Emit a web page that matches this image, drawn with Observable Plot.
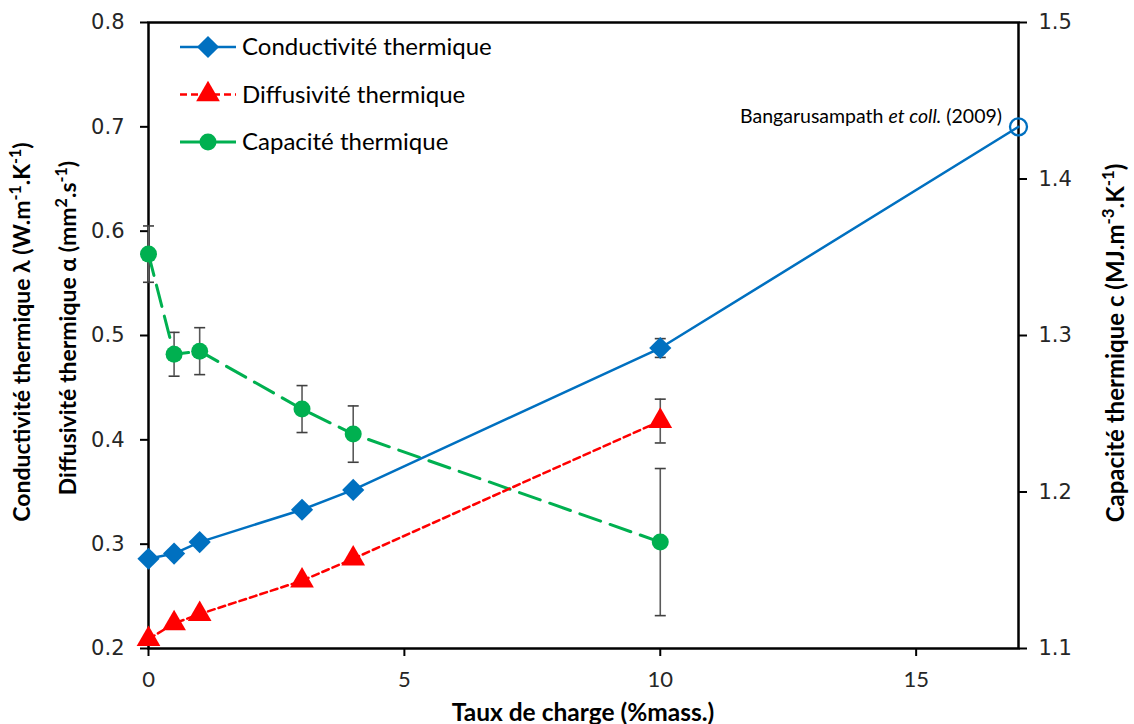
<!DOCTYPE html>
<html><head><meta charset="utf-8">
<script src="https://cdn.jsdelivr.net/npm/d3@7"></script>
<script src="https://cdn.jsdelivr.net/npm/@observablehq/plot@0.6"></script>
<style>
html,body{margin:0;padding:0;background:#fff;}
#chart{width:1134px;height:724px;}
</style></head><body><div id="chart"></div>
<script>
// ---- data ----
const charge = [0, 0.5, 1, 3, 4, 10];
const conductivite = [0.286, 0.291, 0.302, 0.333, 0.352, 0.488];
const conductiviteErr = [0, 0, 0, 0, 0, 0.009];
const diffusivite = [0.209, 0.224, 0.233, 0.265, 0.286, 0.418];
const diffusiviteErr = [0, 0, 0, 0, 0, 0.021];
const capacite = [1.352, 1.288, 1.290, 1.253, 1.237, 1.168];
const capaciteErr = [0.018, 0.014, 0.015, 0.015, 0.018, 0.047];
const refCharge = 17;
const refConductivite = 0.70;
const refLabel = ["Bangarusampath ", "et coll.", " (2009)"];
const leftTicks = [0.2, 0.3, 0.4, 0.5, 0.6, 0.7, 0.8];
const rightTicks = [1.1, 1.2, 1.3, 1.4, 1.5];
const xTicks = [0, 5, 10, 15];
const seriesNames = ["Conductivité thermique", "Diffusivité thermique", "Capacité thermique"];

// ---- secondary axis mapping (1.1–1.5 onto 0.2–0.8) ----
const toLeft = c => 0.2 + (c - 1.1) * 1.5;
const fromLeft = y => 1.1 + (y - 0.2) / 1.5;

const kData = charge.map((x, i) => ({x, y: conductivite[i], e: conductiviteErr[i]}));
const aData = charge.map((x, i) => ({x, y: diffusivite[i], e: diffusiviteErr[i]}));
const cData = charge.map((x, i) => ({x, y: toLeft(capacite[i]), lo: toLeft(capacite[i] - capaciteErr[i]), hi: toLeft(capacite[i] + capaciteErr[i])}));
const kLine = [...kData, {x: refCharge, y: refConductivite}];

const errRows = [
  ...kData.filter(d => d.e > 0).map(d => ({x: d.x, lo: d.y - d.e, hi: d.y + d.e})),
  ...aData.filter(d => d.e > 0).map(d => ({x: d.x, lo: d.y - d.e, hi: d.y + d.e})),
  ...cData.map(d => ({x: d.x, lo: d.lo, hi: d.hi}))
];
const capRows = errRows.flatMap(d => [{x: d.x, y: d.lo}, {x: d.x, y: d.hi}]);
const capSymbol = {draw(ctx) { ctx.moveTo(-5.5, 0); ctx.lineTo(5.5, 0); }};

const BLUE = "#0070C0", RED = "#FF0000", GREEN = "#00B050";
const F = "Lato, 'Open Sans', sans-serif";

const chart = Plot.plot({
  width: 1134, height: 724,
  marginLeft: 148, marginRight: 116, marginTop: 22, marginBottom: 76,
  style: {fontFamily: F, background: "#fff", overflow: "visible"},
  x: {domain: [0, 17]},
  y: {domain: [0.2, 0.8]},
  marks: [
    Plot.frame({stroke: "#000", strokeWidth: 2.5}),
    Plot.axisY({ticks: leftTicks, tickSize: 8, tickPadding: 16, strokeWidth: 2, stroke: "#000",
      tickFormat: d3.format(".1f"), label: null, fontSize: 21, fontFamily: "'DejaVu Sans', sans-serif", fill: "#262626"}),
    Plot.axisY({anchor: "right", ticks: rightTicks.map(toLeft), tickSize: 8, tickPadding: 12, strokeWidth: 2, stroke: "#000",
      tickFormat: d => fromLeft(d).toFixed(1), label: null, fontSize: 21, fontFamily: "'DejaVu Sans', sans-serif", fill: "#262626"}),
    Plot.axisX({ticks: xTicks, tickSize: 8, tickPadding: 15, strokeWidth: 2, stroke: "#000",
      label: null, fontSize: 22, fill: "#262626"}),
    Plot.ruleX(errRows, {x: "x", y1: "lo", y2: "hi", stroke: "#5a5a5a", strokeWidth: 1.6}),
    Plot.dot(capRows, {x: "x", y: "y", symbol: capSymbol, stroke: "#404040", strokeWidth: 1.6, fill: "none"}),
    Plot.line(cData, {x: "x", y: "y", stroke: GREEN, strokeWidth: 3, strokeDasharray: "22,10"}),
    Plot.line(aData, {x: "x", y: "y", stroke: RED, strokeWidth: 2.5, strokeDasharray: "7,4"}),
    Plot.line(kLine, {x: "x", y: "y", stroke: BLUE, strokeWidth: 2.5}),
    Plot.dot(cData, {x: "x", y: "y", symbol: "circle", fill: GREEN, r: 8.5}),
    Plot.dot(aData, {x: "x", y: "y", symbol: "triangle", fill: RED, r: 8.8}),
    Plot.dot(kData, {x: "x", y: "y", symbol: "diamond2", fill: BLUE, r: 10}),
    Plot.dot([{x: refCharge, y: refConductivite}], {x: "x", y: "y", stroke: BLUE, fill: "none", r: 8.5, strokeWidth: 2.3})
  ]
});
document.getElementById("chart").appendChild(chart);

// ---- texts, legend ----
const svg = d3.select(chart);
const sx = chart.scale("x"), sy = chart.scale("y");

function richText(g, parts, attrs) {
  const t = g.append("text");
  for (const [k, v] of Object.entries(attrs)) t.attr(k, v);
  for (const p of parts) {
    const s = t.append("tspan").text(p.t);
    if (p.sup) s.attr("baseline-shift", "super").attr("font-size", "70%");
    if (p.it) s.attr("font-style", "italic");
  }
  return t;
}

// annotation
richText(svg, [{t: refLabel[0]}, {t: refLabel[1], it: true}, {t: refLabel[2]}], {
  x: sx.apply(refCharge) - 16, y: sy.apply(refConductivite) - 3,
  "text-anchor": "end", "font-family": F, "font-size": 19.5, fill: "#000"
});

const titleAttrs = {"font-family": F, "font-size": 23, "font-weight": "bold", fill: "#000", "text-anchor": "middle", dy: "0.35em"};
richText(svg.append("g").attr("transform", "translate(22,332) rotate(-90)"),
  [{t: "Conductivité thermique λ (W.m"}, {t: "-1", sup: true}, {t: ".K"}, {t: "-1", sup: true}, {t: ")"}], titleAttrs);
richText(svg.append("g").attr("transform", "translate(68,328) rotate(-90)"),
  [{t: "Diffusivité thermique α (mm"}, {t: "2", sup: true}, {t: ".s"}, {t: "-1", sup: true}, {t: ")"}], titleAttrs);
richText(svg.append("g").attr("transform", "translate(1116,343) rotate(-90)"),
  [{t: "Capacité thermique c (MJ.m"}, {t: "-3", sup: true}, {t: ".K"}, {t: "-1", sup: true}, {t: ")"}], {...titleAttrs, "font-size": 24});
richText(svg, [{t: "Taux de charge (%mass.)"}], {...titleAttrs, "font-size": 24.5, x: 583, y: 712});

// legend
const leg = svg.append("g");
const legendRows = [
  {name: seriesNames[0], color: BLUE, dash: null, sym: d3.symbolDiamond2, size: Math.PI * 100, w: 2.5},
  {name: seriesNames[1], color: RED, dash: "7,4", sym: d3.symbolTriangle, size: Math.PI * 8.8 * 8.8, w: 2.5},
  {name: seriesNames[2], color: GREEN, dash: null, sym: d3.symbolCircle, size: Math.PI * 8.5 * 8.5, w: 3}
];
legendRows.forEach((r, i) => {
  const y = 47 + i * 47.5;
  leg.append("line").attr("x1", 180).attr("x2", 236).attr("y1", y).attr("y2", y)
    .attr("stroke", r.color).attr("stroke-width", r.w).attr("stroke-dasharray", r.dash);
  leg.append("path").attr("d", d3.symbol(r.sym, r.size)()).attr("transform", `translate(208,${y})`).attr("fill", r.color);
  leg.append("text").attr("x", 242).attr("y", y).attr("dy", "0.35em").attr("text-anchor", "start")
    .attr("font-family", F).attr("font-size", 24).attr("fill", "#000").text(r.name);
});
</script></body></html>
